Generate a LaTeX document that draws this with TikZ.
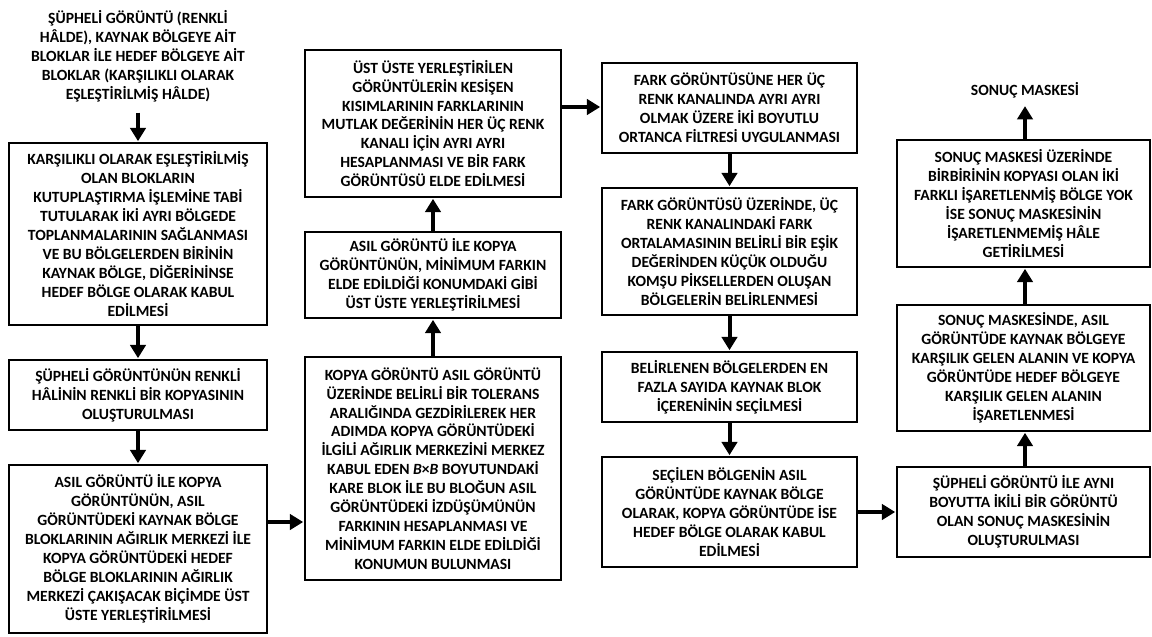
\documentclass[tikz,border=0pt]{standalone}
\usepackage{fontspec}
\setmainfont{Carlito}
\usetikzlibrary{arrows.meta}
\begin{document}
\begin{tikzpicture}[x=0.75pt,y=-0.75pt,
  txt/.style={font=\fontsize{11.7}{14.2}\selectfont\bfseries, align=center, inner sep=0pt},
  box/.style 2 args={txt, draw, line width=2.1pt, rectangle, minimum width=#1*0.75pt, minimum height=#2*0.75pt},
  arr/.style={line width=3pt, -{Triangle[length=10pt,width=11.5pt]}, shorten >=0.3pt}]
\useasboundingbox (0,0) rectangle (1152,636);
% column 1
\node[txt] (t0) at (138,56) {ŞÜPHELİ GÖRÜNTÜ (RENKLİ\\HÂLDE), KAYNAK BÖLGEYE AİT\\BLOKLAR İLE HEDEF BÖLGEYE AİT\\BLOKLAR (KARŞILIKLI OLARAK\\EŞLEŞTİRİLMİŞ HÂLDE)};
\node[box={258}{182}] (b1) at (138,234) {KARŞILIKLI OLARAK EŞLEŞTİRİLMİŞ\\OLAN BLOKLARIN\\KUTUPLAŞTIRMA İŞLEMİNE TABİ\\TUTULARAK İKİ AYRI BÖLGEDE\\TOPLANMALARININ SAĞLANMASI\\VE BU BÖLGELERDEN BİRİNİN\\KAYNAK BÖLGE, DİĞERİNİNSE\\HEDEF BÖLGE OLARAK KABUL\\EDİLMESİ};
\node[box={258}{70}] (b2) at (138,395) {ŞÜPHELİ GÖRÜNTÜNÜN RENKLİ\\HÂLİNİN RENKLİ BİR KOPYASININ\\OLUŞTURULMASI};
\node[box={258}{168}] (b3) at (138,549) {ASIL GÖRÜNTÜ İLE KOPYA\\GÖRÜNTÜNÜN, ASIL\\GÖRÜNTÜDEKİ KAYNAK BÖLGE\\BLOKLARININ AĞIRLIK MERKEZİ İLE\\KOPYA GÖRÜNTÜDEKİ HEDEF\\BÖLGE BLOKLARININ AĞIRLIK\\MERKEZİ ÇAKIŞACAK BİÇİMDE ÜST\\ÜSTE YERLEŞTİRİLMESİ};
% column 2
\node[box={256}{147}] (c2a) at (433,123.5) {ÜST ÜSTE YERLEŞTİRİLEN\\GÖRÜNTÜLERİN KESİŞEN\\KISIMLARININ FARKLARININ\\MUTLAK DEĞERİNİN HER ÜÇ RENK\\KANALI İÇİN AYRI AYRI\\HESAPLANMASI VE BİR FARK\\GÖRÜNTÜSÜ ELDE EDİLMESİ};
\node[box={256}{86}] (c2b) at (433,275) {ASIL GÖRÜNTÜ İLE KOPYA\\GÖRÜNTÜNÜN, MİNİMUM FARKIN\\ELDE EDİLDİĞİ KONUMDAKİ GİBİ\\ÜST ÜSTE YERLEŞTİRİLMESİ};
\node[box={256}{223}] (c2c) at (433,468.5) {KOPYA GÖRÜNTÜ ASIL GÖRÜNTÜ\\ÜZERİNDE BELİRLİ BİR TOLERANS\\ARALIĞINDA GEZDİRİLEREK HER\\ADIMDA KOPYA GÖRÜNTÜDEKİ\\İLGİLİ AĞIRLIK MERKEZİNİ MERKEZ\\KABUL EDEN \textit{B}×\textit{B} BOYUTUNDAKİ\\KARE BLOK İLE BU BLOĞUN ASIL\\GÖRÜNTÜDEKİ İZDÜŞÜMÜNÜN\\FARKININ HESAPLANMASI VE\\MİNİMUM FARKIN ELDE EDİLDİĞİ\\KONUMUN BULUNMASI};
% column 3
\node[box={255}{90}] (c3a) at (729.5,108) {FARK GÖRÜNTÜSÜNE HER ÜÇ\\RENK KANALINDA AYRI AYRI\\OLMAK ÜZERE İKİ BOYUTLU\\ORTANCA FİLTRESİ UYGULANMASI};
\node[box={255}{127}] (c3b) at (729.5,251.5) {FARK GÖRÜNTÜSÜ ÜZERİNDE, ÜÇ\\RENK KANALINDAKİ FARK\\ORTALAMASININ BELİRLİ BİR EŞİK\\DEĞERİNDEN KÜÇÜK OLDUĞU\\KOMŞU PİKSELLERDEN OLUŞAN\\BÖLGELERİN BELİRLENMESİ};
\node[box={255}{70}] (c3c) at (729.5,387) {BELİRLENEN BÖLGELERDEN EN\\FAZLA SAYIDA KAYNAK BLOK\\İÇERENİNİN SEÇİLMESİ};
\node[box={255}{110}] (c3d) at (729.5,512) {SEÇİLEN BÖLGENİN ASIL\\GÖRÜNTÜDE KAYNAK BÖLGE\\OLARAK, KOPYA GÖRÜNTÜDE İSE\\HEDEF BÖLGE OLARAK KABUL\\EDİLMESİ};
% column 4
\node[txt] (res) at (1025,90) {SONUÇ MASKESİ};
\node[box={253}{127}] (c4a) at (1023.5,203.5) {SONUÇ MASKESİ ÜZERİNDE\\BİRBİRİNİN KOPYASI OLAN İKİ\\FARKLI İŞARETLENMİŞ BÖLGE YOK\\İSE SONUÇ MASKESİNİN\\İŞARETLENMEMİŞ HÂLE\\GETİRİLMESİ};
\node[box={253}{126}] (c4b) at (1023.5,368) {SONUÇ MASKESİNDE, ASIL\\GÖRÜNTÜDE KAYNAK BÖLGEYE\\KARŞILIK GELEN ALANIN VE KOPYA\\GÖRÜNTÜDE HEDEF BÖLGEYE\\KARŞILIK GELEN ALANIN\\İŞARETLENMESİ};
\node[box={253}{90}] (c4c) at (1023.5,512) {ŞÜPHELİ GÖRÜNTÜ İLE AYNI\\BOYUTTA İKİLİ BİR GÖRÜNTÜ\\OLAN SONUÇ MASKESİNİN\\OLUŞTURULMASI};
% arrows
\draw[arr, shorten <=8pt] (t0.south) -- (b1.north);
\draw[arr] (b1.south) -- (b2.north);
\draw[arr] (b2.south) -- (b3.north);
\draw[arr] (b3.east |- 0,522) -- (c2c.west |- 0,522);
\draw[arr] (c2c.north) -- (c2b.south);
\draw[arr] (c2b.north) -- (c2a.south);
\draw[arr] (c2a.east |- 0,107) -- (c3a.west |- 0,107);
\draw[arr] (c3a.south) -- (c3b.north);
\draw[arr] (c3b.south) -- (c3c.north);
\draw[arr] (c3c.south) -- (c3d.north);
\draw[arr] (c3d.east) -- (c4c.west);
\draw[arr] (c4c.north -| 1025,0) -- (c4b.south -| 1025,0);
\draw[arr] (c4b.north -| 1025,0) -- (c4a.south -| 1025,0);
\draw[arr, shorten >=6pt] (c4a.north -| 1025,0) -- (res.south);
\end{tikzpicture}
\end{document}
